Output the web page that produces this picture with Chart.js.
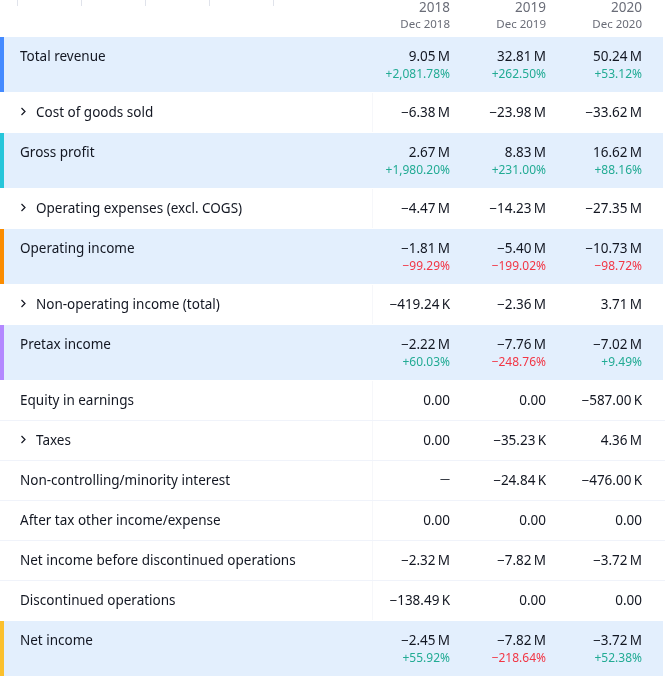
<!DOCTYPE html>
<html>
<head>
<meta charset="utf-8">
<script src="https://cdn.jsdelivr.net/npm/chart.js@4.4.1/dist/chart.umd.min.js"></script>
<style>
  body { margin: 0; background: #ffffff; }
  canvas { display: block; }
</style>
</head>
<body>
<canvas id="table" width="665" height="679"></canvas>
<script>
// Row labels, top to bottom
const rowLabels = [
  'Total revenue', 'Cost of goods sold', 'Gross profit', 'Operating expenses (excl. COGS)',
  'Operating income', 'Non-operating income (total)', 'Pretax income', 'Equity in earnings',
  'Taxes', 'Non-controlling/minority interest', 'After tax other income/expense',
  'Net income before discontinued operations', 'Discontinued operations', 'Net income'
];
// rows with a ">" expander
const expandable = [false, true, false, true, false, true, false, false, true, false, false, false, false, false];
// colour of the side marker for the highlighted (total) rows, null for plain rows
const markerColors = ['#448aff', null, '#26c6da', null, '#fb8c00', null, '#b388ff', null, null, null, null, null, null, '#fbc02d'];

const years = ['2018', '2019', '2020'];
const periods = ['Dec 2018', 'Dec 2019', 'Dec 2020'];

// values per fiscal year (null = no data)
const values2018 = [9.05e6, -6.38e6, 2.67e6, -4.47e6, -1.81e6, -419.24e3, -2.22e6, 0, 0, null, 0, -2.32e6, -138.49e3, -2.45e6];
const values2019 = [32.81e6, -23.98e6, 8.83e6, -14.23e6, -5.40e6, -2.36e6, -7.76e6, 0, -35.23e3, -24.84e3, 0, -7.82e6, 0, -7.82e6];
const values2020 = [50.24e6, -33.62e6, 16.62e6, -27.35e6, -10.73e6, 3.71e6, -7.02e6, -587.00e3, 4.36e6, -476.00e3, 0, -3.72e6, 0, -3.72e6];

// year over year change in %, only for the highlighted rows
const growth2018 = [2081.78, null, 1980.20, null, -99.29, null, 60.03, null, null, null, null, null, null, 55.92];
const growth2019 = [262.50, null, 231.00, null, -199.02, null, -248.76, null, null, null, null, null, null, -218.64];
const growth2020 = [53.12, null, 88.16, null, -98.72, null, 9.49, null, null, null, null, null, null, 52.38];

const columnValues = [values2018, values2019, values2020];
const columnGrowth = [growth2018, growth2019, growth2020];

// layout (in canvas units)
const W = 665, H = 679;
const headerH = 37, totalRowH = 56, plainRowH = 40;
const colRight = [450, 546, 642];
const labelColRight = 372;

const FONT = '"Noto Sans", sans-serif';
const TEXT = '#131722', MUTED = '#6a6d78', UP = '#22ab94', DOWN = '#f23645';
const BAND = '#e3effd', LINE = '#f0f3fa';

const MINUS = '\u2212';

function fmtValue(v) {
  if (v === null) return '\u2014';
  if (v === 0) return '0.00';
  const a = Math.abs(v);
  let s;
  if (a >= 1e6) s = (a / 1e6).toFixed(2) + '\u202FM';
  else if (a >= 1e3) s = (a / 1e3).toFixed(2) + '\u202FK';
  else s = a.toFixed(2);
  return (v < 0 ? MINUS : '') + s;
}

function fmtGrowth(g) {
  const s = Math.abs(g).toLocaleString('en-US', { minimumFractionDigits: 2, maximumFractionDigits: 2 });
  return (g < 0 ? MINUS : '+') + s + '%';
}

// row tops from row kinds
const rowTops = [];
let acc = headerH;
rowLabels.forEach((_, i) => {
  rowTops.push(acc);
  acc += markerColors[i] ? totalRowH : plainRowH;
});

const tablePlugin = {
  id: 'tableDraw',
  beforeDatasetsDraw(chart) {
    const c = chart.ctx;
    const xs = chart.scales.x, ys = chart.scales.y;
    const px = v => xs.getPixelForValue(v);
    const py = v => ys.getPixelForValue(v);
    c.save();
    c.fillStyle = '#ffffff';
    c.fillRect(0, 0, chart.width, chart.height);

    // tiny ticks at the very top
    c.strokeStyle = '#e0e3eb';
    c.lineWidth = 1;
    [17, 81, 145, 209, 273].forEach(x => {
      c.beginPath();
      c.moveTo(Math.round(px(x)) + 0.5, py(0));
      c.lineTo(Math.round(px(x)) + 0.5, py(6));
      c.stroke();
    });

    // header
    c.textAlign = 'right';
    c.textBaseline = 'alphabetic';
    years.forEach((y, j) => {
      c.fillStyle = MUTED;
      c.font = '13.5px ' + FONT;
      c.fillText(y, px(colRight[j]), py(12));
      c.font = '11.5px ' + FONT;
      c.fillText(periods[j], px(colRight[j]), py(28));
    });

    rowLabels.forEach((label, i) => {
      const top = rowTops[i];
      const total = !!markerColors[i];
      const h = total ? totalRowH : plainRowH;
      if (total) {
        c.fillStyle = BAND;
        c.fillRect(px(0), py(top), px(W - 2) - px(0), py(top + h - 1) - py(top));
        c.fillStyle = markerColors[i];
        c.fillRect(px(0), py(top), px(4) - px(0), py(top + h - 1) - py(top));
      } else {
        c.strokeStyle = '#f6f7fa';
        c.lineWidth = 1;
        c.beginPath();
        c.moveTo(Math.round(px(labelColRight)) + 0.5, py(top));
        c.lineTo(Math.round(px(labelColRight)) + 0.5, py(top + h - 1));
        c.stroke();
        c.strokeStyle = LINE;
        const next = i + 1 < rowLabels.length ? markerColors[i + 1] : 'x';
        if (!next) {
          c.beginPath();
          c.moveTo(px(0), Math.round(py(top + h - 1)) + 0.5);
          c.lineTo(px(W), Math.round(py(top + h - 1)) + 0.5);
          c.stroke();
        }
      }

      // label
      c.fillStyle = TEXT;
      c.textAlign = 'left';
      c.font = '13.5px ' + FONT;
      let lx = 20;
      if (expandable[i]) {
        c.strokeStyle = TEXT;
        c.lineWidth = 1.2;
        c.beginPath();
        c.moveTo(px(21.5), py(top + 15));
        c.lineTo(px(25), py(top + 18.5));
        c.lineTo(px(21.5), py(top + 22));
        c.stroke();
        lx = 36;
      }
      c.fillText(label, px(lx), py(top + 24));

      // values
      c.textAlign = 'right';
      columnValues.forEach((vals, j) => {
        c.fillStyle = TEXT;
        c.font = (vals[i] === null ? '10px ' : '13.5px ') + FONT;
        c.fillText(fmtValue(vals[i]), px(colRight[j]), py(top + (vals[i] === null ? 21 : 24)));
        const g = columnGrowth[j][i];
        if (g !== null) {
          c.fillStyle = g < 0 ? DOWN : UP;
          c.font = '12px ' + FONT;
          c.fillText(fmtGrowth(g), px(colRight[j]), py(top + 41));
        }
      });
    });
    c.restore();
  }
};

new Chart(document.getElementById('table'), {
  type: 'scatter',
  data: { datasets: [{ data: [], pointRadius: 0 }] },
  options: {
    responsive: false,
    animation: false,
    events: [],
    layout: { padding: 0 },
    plugins: { legend: { display: false }, tooltip: { enabled: false } },
    scales: {
      x: { type: 'linear', min: 0, max: W, display: false },
      y: { type: 'linear', min: 0, max: H, reverse: true, display: false }
    }
  },
  plugins: [tablePlugin]
});
</script>
</body>
</html>
